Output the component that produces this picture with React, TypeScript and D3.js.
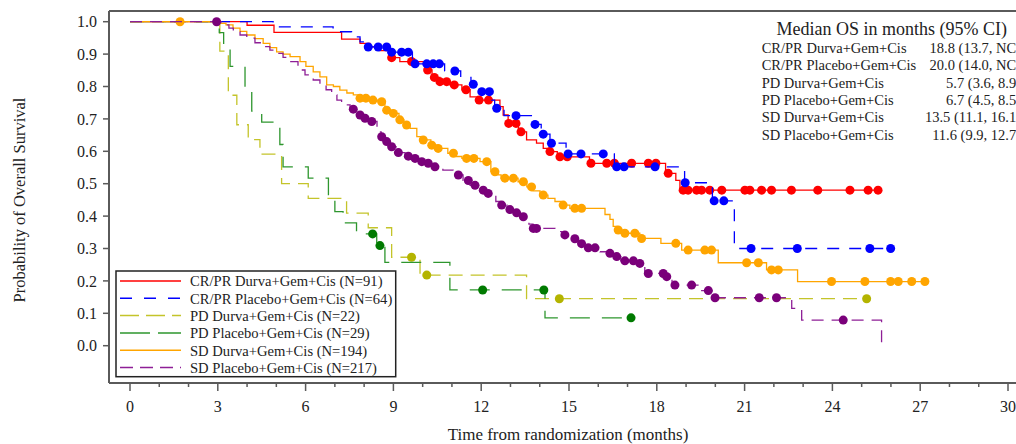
import React from 'react';
import * as d3 from 'd3';

// ---- Axis ticks ----
const xTicks = [0, 3, 6, 9, 12, 15, 18, 21, 24, 27, 30];
const xMinorTicks = d3.range(0, 31, 1);
const yTicks = [0, 0.1, 0.2, 0.3, 0.4, 0.5, 0.6, 0.7, 0.8, 0.9, 1.0];

// ---- Legend / median table ----
const seriesLabels = [
  'CR/PR Durva+Gem+Cis (N=91)',
  'CR/PR Placebo+Gem+Cis (N=64)',
  'PD Durva+Gem+Cis (N=22)',
  'PD Placebo+Gem+Cis (N=29)',
  'SD Durva+Gem+Cis (N=194)',
  'SD Placebo+Gem+Cis (N=217)',
];
const medianTitle = 'Median OS in months (95% CI)';
const medianNames = [
  'CR/PR Durva+Gem+Cis',
  'CR/PR Placebo+Gem+Cis',
  'PD Durva+Gem+Cis',
  'PD Placebo+Gem+Cis',
  'SD Durva+Gem+Cis',
  'SD Placebo+Gem+Cis',
];
const medianValues = [
  '18.8 (13.7, NC)',
  '20.0 (14.0, NC)',
  '5.7 (3.6, 8.9)',
  '6.7 (4.5, 8.5)',
  '13.5 (11.1, 16.1)',
  '11.6 (9.9, 12.7)',
];

// ---- KM step data: [time (months), survival] ----
const crprDurvaSteps: [number, number][] = [
  [0, 1], [4.0, 0.989], [4.92, 0.967], [7.23, 0.946], [7.86, 0.933], [8.2, 0.922], [8.54, 0.911],
  [8.88, 0.889], [9.22, 0.877], [10.14, 0.851], [10.32, 0.828], [10.59, 0.815], [10.93, 0.805],
  [11.34, 0.79], [11.62, 0.768], [11.84, 0.758], [12.64, 0.738], [12.75, 0.712], [12.92, 0.686],
  [13.27, 0.66], [13.55, 0.635], [13.89, 0.625], [14.12, 0.609], [14.33, 0.599], [14.6, 0.583],
  [15.7, 0.563], [18.3, 0.532], [18.65, 0.51], [18.79, 0.48],
];
const crprDurvaEnd = 25.59;
const crprDurvaCensor = [
  8.94, 9.62, 10.17, 10.4, 10.59, 10.82, 11.08, 11.48, 11.93, 12.25, 12.94, 13.19, 13.36, 14.35,
  14.69, 14.94, 15.75, 16.29, 16.55, 17.14, 17.71, 17.97, 18.39, 18.9, 19.07, 19.36, 19.53, 19.81,
  20.22, 21.01, 21.18, 21.58, 21.92, 22.6, 23.5, 24.6, 25.22, 25.56,
];

const crprPlaceboSteps: [number, number][] = [
  [0, 1], [4.89, 0.984], [6.94, 0.969], [7.57, 0.953], [7.86, 0.938], [8.05, 0.922], [8.85, 0.906],
  [9.65, 0.87], [10.75, 0.848], [11.3, 0.828], [11.65, 0.807], [11.95, 0.784], [12.36, 0.758],
  [12.46, 0.733], [12.78, 0.71], [13.75, 0.683], [14.05, 0.653], [14.35, 0.625], [14.9, 0.592],
  [16.55, 0.552], [18.95, 0.503], [19.9, 0.447], [20.65, 0.3],
];
const crprPlaceboEnd = 26.0;
const crprPlaceboCensor = [
  8.14, 8.48, 8.77, 8.94, 9.28, 9.51, 9.74, 10.14, 10.36, 10.57, 11.1, 11.73, 12.02, 12.28, 12.53,
  13.19, 13.84, 14.12, 14.4, 14.97, 15.41, 16.17, 16.63, 16.88, 17.94, 18.97, 19.96, 20.29, 21.22,
  22.8, 25.28, 25.99,
];

const pdDurvaSteps: [number, number][] = [
  [0, 1], [3.07, 0.909], [3.36, 0.773], [3.65, 0.682], [4.04, 0.636], [4.44, 0.591], [5.18, 0.5],
  [6.09, 0.455], [7.4, 0.409], [8.14, 0.364], [8.94, 0.273], [9.91, 0.218], [13.55, 0.145],
];
const pdDurvaEnd = 25.17;
const pdDurvaCensor = [9.62, 10.14, 14.67, 25.17];

const pdPlaceboSteps: [number, number][] = [
  [0, 1], [3.05, 0.966], [3.2, 0.931], [3.42, 0.862], [3.93, 0.793], [4.16, 0.724], [4.5, 0.69],
  [5.12, 0.621], [5.23, 0.552], [6.09, 0.517], [6.78, 0.448], [7.0, 0.414], [7.28, 0.379],
  [7.74, 0.345], [8.43, 0.309], [8.71, 0.257], [10.93, 0.172], [14.18, 0.086],
];
const pdPlaceboEnd = 17.12;
const pdPlaceboCensor = [8.29, 8.54, 12.05, 14.14, 17.12];

const sdDurvaSteps: [number, number][] = [
  [0, 1], [3.07, 0.995], [3.28, 0.99], [3.52, 0.98], [3.76, 0.97], [3.99, 0.959], [4.27, 0.948],
  [4.55, 0.933], [4.78, 0.92], [5.01, 0.907], [5.23, 0.9], [5.47, 0.892], [5.81, 0.877],
  [6.01, 0.862], [6.26, 0.845], [6.49, 0.83], [6.72, 0.805], [6.95, 0.8], [7.17, 0.789],
  [7.41, 0.78], [7.63, 0.774], [7.79, 0.764], [8.27, 0.758], [8.47, 0.753], [8.71, 0.727],
  [8.99, 0.717], [9.19, 0.697], [9.36, 0.681], [9.57, 0.671], [9.8, 0.645], [9.98, 0.635],
  [10.28, 0.619], [10.5, 0.609], [10.86, 0.594], [11.14, 0.584], [11.34, 0.578], [11.96, 0.568],
  [12.33, 0.537], [12.57, 0.527], [12.68, 0.517], [13.26, 0.506], [13.56, 0.49], [13.77, 0.478],
  [14.01, 0.465], [14.28, 0.455], [14.52, 0.445], [14.72, 0.434], [15.03, 0.424], [16.23, 0.405],
  [16.4, 0.39], [16.51, 0.368], [16.64, 0.357], [16.84, 0.347], [17.42, 0.331], [18.14, 0.316],
  [18.85, 0.295], [20.1, 0.256], [21.75, 0.234], [22.81, 0.198],
];
const sdDurvaEnd = 27.16;
const sdDurvaCensor = [
  1.71, 7.86, 8.06, 8.3, 8.6, 8.77, 9.0, 9.22, 9.45, 10.02, 10.31, 10.53, 11.05, 11.5, 11.75,
  12.19, 12.47, 12.81, 13.1, 13.44, 13.72, 14.12, 14.8, 15.2, 15.43, 16.68, 16.91, 17.25, 17.48,
  18.65, 19.07, 19.64, 19.87, 21.07, 21.47, 21.92, 22.15, 23.97, 25.11, 25.99, 26.25, 26.71, 27.16,
];

const sdPlaceboSteps: [number, number][] = [
  [0, 1], [3.11, 0.995], [3.25, 0.99], [3.38, 0.98], [3.53, 0.969], [3.76, 0.959], [3.99, 0.949],
  [4.27, 0.935], [4.55, 0.923], [4.78, 0.912], [5.01, 0.902], [5.23, 0.89], [5.47, 0.877],
  [5.74, 0.851], [5.98, 0.836], [6.26, 0.82], [6.49, 0.805], [6.7, 0.79], [6.89, 0.774],
  [7.07, 0.758], [7.23, 0.743], [7.52, 0.73], [7.79, 0.712], [7.96, 0.702], [8.13, 0.692],
  [8.44, 0.66], [8.58, 0.645], [8.71, 0.63], [8.88, 0.614], [9.09, 0.596], [9.4, 0.585],
  [9.63, 0.578], [9.87, 0.568], [10.11, 0.563], [10.32, 0.552], [10.69, 0.542], [11.04, 0.527],
  [11.38, 0.51], [11.62, 0.495], [11.89, 0.48], [12.13, 0.47], [12.5, 0.445], [12.64, 0.434],
  [12.88, 0.42], [13.09, 0.41], [13.32, 0.398], [13.63, 0.375], [13.77, 0.362], [14.52, 0.352],
  [14.76, 0.342], [15.03, 0.33], [15.31, 0.315], [15.58, 0.302], [16.06, 0.29], [16.3, 0.285],
  [16.5, 0.275], [16.77, 0.262], [17.36, 0.254], [17.59, 0.223], [18.28, 0.213], [18.52, 0.187],
  [19.47, 0.17], [19.88, 0.148], [22.61, 0.115], [22.95, 0.079], [25.68, 0.0],
];
const sdPlaceboEnd = 25.68;
const sdPlaceboCensor = [
  2.96, 7.63, 7.86, 8.03, 8.26, 8.6, 8.77, 8.94, 9.17, 9.51, 9.74, 9.97, 10.19, 10.42, 11.22,
  11.56, 11.79, 12.07, 12.24, 12.7, 12.98, 13.21, 13.44, 13.78, 13.89, 14.86, 15.2, 15.43, 15.66,
  15.89, 16.4, 16.63, 16.91, 17.2, 17.42, 17.71, 18.22, 18.34, 18.62, 19.19, 19.76, 19.99, 21.5,
  22.09, 24.37,
];

// ---- styles ----
const styles = [
  { line: '#FF0000', dot: '#FF0000', dash: null },
  { line: '#0000FF', dot: '#0000FF', dash: '12,10' },
  { line: '#C4C42A', dot: '#B4B400', dash: '14,8' },
  { line: '#2E962E', dot: '#007A00', dash: '20,12' },
  { line: '#FFA500', dot: '#FFA500', dash: null },
  { line: '#8E1F96', dot: '#7A007A', dash: '12,8' },
];
const legendDash = [null, '12,12', '19,7', '30,8', null, '13,7'];

const series = [
  { steps: crprDurvaSteps, end: crprDurvaEnd, censor: crprDurvaCensor },
  { steps: crprPlaceboSteps, end: crprPlaceboEnd, censor: crprPlaceboCensor },
  { steps: pdDurvaSteps, end: pdDurvaEnd, censor: pdDurvaCensor },
  { steps: pdPlaceboSteps, end: pdPlaceboEnd, censor: pdPlaceboCensor },
  { steps: sdDurvaSteps, end: sdDurvaEnd, censor: sdDurvaCensor },
  { steps: sdPlaceboSteps, end: sdPlaceboEnd, censor: sdPlaceboCensor },
];

const W = 1016;
const H = 444;
const FONT = '"Liberation Serif", "Times New Roman", serif';
const AXIS = '#5a5a5a';

function survAt(steps: [number, number][], t: number) {
  let s = steps[0][1];
  for (const [tt, ss] of steps) {
    if (tt <= t + 1e-9) s = ss;
    else break;
  }
  return s;
}

export default function App() {
  const x = d3.scaleLinear().domain([0, 30]).range([130, 1008]);
  const y = d3.scaleLinear().domain([0, 1]).range([345.7, 21.7]);
  const line = d3
    .line<[number, number]>()
    .x((d) => x(d[0]))
    .y((d) => y(d[1]))
    .curve(d3.curveStepAfter);

  const axisLeft = 109;
  const axisBottom = 383;
  const frameTop = 11;

  const legX = 116;
  const legY = 271;
  const legRow = 17.3;

  return (
    <svg
      width={W}
      height={H}
      style={{ position: 'absolute', left: 0, top: 0, background: '#fff' }}
      fontFamily={FONT}
    >
      <rect x={0} y={0} width={W} height={H} fill="#fff" />

      {/* frame / axes */}
      <line x1={axisLeft} x2={W + 10} y1={frameTop} y2={frameTop} stroke={AXIS} strokeWidth={2} />
      <line x1={axisLeft} x2={axisLeft} y1={frameTop} y2={axisBottom} stroke={AXIS} strokeWidth={2} />
      <line x1={axisLeft} x2={W + 10} y1={axisBottom} y2={axisBottom} stroke={AXIS} strokeWidth={2} />

      {/* y ticks */}
      {yTicks.map((v) => (
        <g key={'y' + v}>
          <line x1={axisLeft - 6} x2={axisLeft} y1={y(v)} y2={y(v)} stroke={AXIS} strokeWidth={1.5} />
          <text x={97} y={y(v)} dy="0.35em" textAnchor="end" fontSize={16} fill="#222">
            {v.toFixed(1)}
          </text>
        </g>
      ))}

      {/* x ticks */}
      {xMinorTicks.map((v) => (
        <line
          key={'xm' + v}
          x1={x(v)}
          x2={x(v)}
          y1={axisBottom}
          y2={axisBottom + (v % 3 === 0 ? 8 : 4)}
          stroke={AXIS}
          strokeWidth={1.5}
        />
      ))}
      {xTicks.map((v) => (
        <text key={'xl' + v} x={x(v)} y={411.5} textAnchor="middle" fontSize={16} fill="#222">
          {v}
        </text>
      ))}

      {/* axis titles */}
      <text x={568} y={440} textAnchor="middle" fontSize={17} fill="#222">
        Time from randomization (months)
      </text>
      <text
        transform={`translate(25,200) rotate(-90)`}
        textAnchor="middle"
        fontSize={16.5}
        fill="#222"
      >
        Probability of Overall Survival
      </text>

      {/* curves */}
      {series.map((s, i) => {
        const last = s.steps[s.steps.length - 1];
        const pts: [number, number][] = [...s.steps, [s.end, last[1]]];
        return (
          <g key={'s' + i}>
            <path
              d={line(pts) || ''}
              fill="none"
              stroke={styles[i].line}
              strokeWidth={1.3}
              strokeDasharray={styles[i].dash || undefined}
            />
            {s.censor.map((t, j) => (
              <circle
                key={j}
                cx={x(t)}
                cy={y(survAt(s.steps, t))}
                r={4.5}
                fill={styles[i].dot}
              />
            ))}
          </g>
        );
      })}

      {/* legend */}
      <rect
        x={legX}
        y={legY}
        width={279.7}
        height={105.7}
        fill="#fff"
        stroke="#222"
        strokeWidth={1.5}
      />
      {seriesLabels.map((lab, i) => (
        <g key={'lg' + i}>
          <line
            x1={120}
            x2={181}
            y1={281 + legRow * i}
            y2={281 + legRow * i}
            stroke={styles[i].line}
            strokeWidth={1.5}
            strokeDasharray={legendDash[i] || undefined}
          />
          <text x={190} y={286.3 + legRow * i} fontSize={14.6} fill="#222">
            {lab}
          </text>
        </g>
      ))}

      {/* median table */}
      <text x={891.7} y={34.5} textAnchor="middle" fontSize={18} fill="#222">
        {medianTitle}
      </text>
      {medianNames.map((n, i) => (
        <g key={'md' + i}>
          <text x={761.7} y={52.7 + 17.4 * i} fontSize={14.5} fill="#222">
            {n}
          </text>
          <text x={1021} y={52.7 + 17.4 * i} textAnchor="end" fontSize={14.5} fill="#222">
            {medianValues[i]}
          </text>
        </g>
      ))}
    </svg>
  );
}
